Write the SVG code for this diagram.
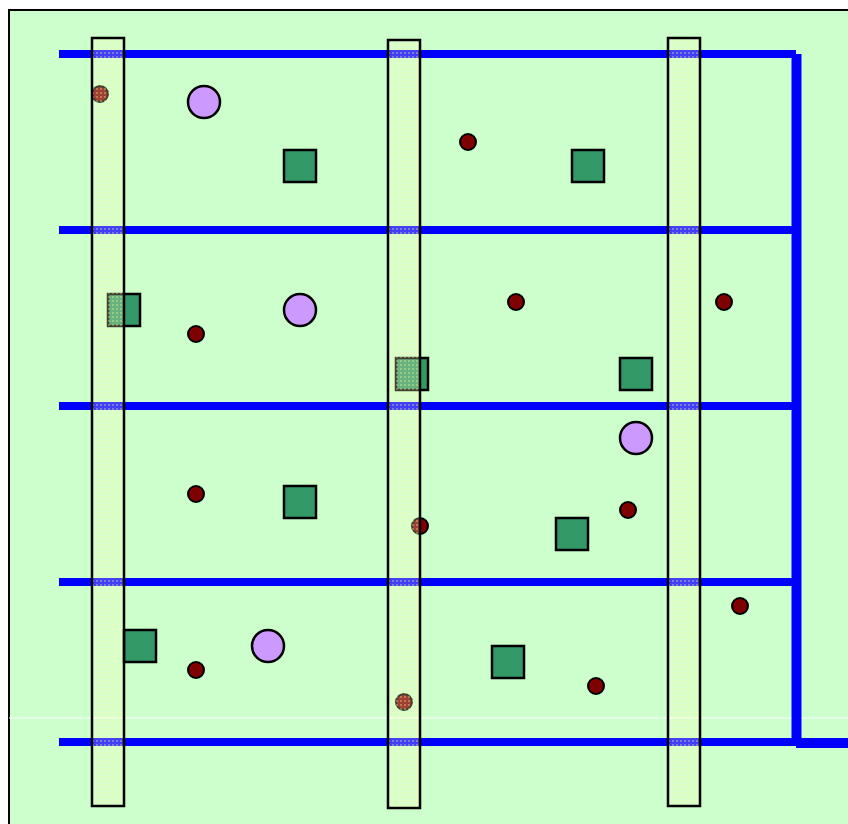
<svg xmlns="http://www.w3.org/2000/svg" width="848" height="824" viewBox="0 0 848 824">
<defs>
<pattern id="hatch" width="4" height="4" patternUnits="userSpaceOnUse">
<rect width="4" height="4" fill="#ffffcc" fill-opacity="0.25"/>
<rect width="2" height="2" fill="#ffff99" fill-opacity="0.3"/>
</pattern>
</defs>
<style>
.bg{fill:#ccffcc;stroke:#000;stroke-width:2}
.wire{stroke:#0000ff;stroke-width:8;fill:none}
.wire2{stroke:#0000ff;stroke-width:10;fill:none}
.col{fill:url(#hatch);stroke:#000;stroke-width:2.5}
.sq{fill:#339966;stroke:#000;stroke-width:2.5}
.big{fill:#cc99ff;stroke:#000;stroke-width:2.5}
.dot{fill:#800000;stroke:#000;stroke-width:2}
</style>
<rect x="0" y="0" width="848" height="824" fill="#ffffff"/>
<rect class="bg" x="9" y="10" width="860" height="840"/>
<line x1="9" y1="718" x2="848" y2="718" stroke="#ffffff" stroke-width="1"/>
<g id="connectors">
<line class="wire" x1="59" y1="54" x2="796" y2="54"/>
<line class="wire" x1="59" y1="230" x2="796" y2="230"/>
<line class="wire" x1="59" y1="406" x2="796" y2="406"/>
<line class="wire" x1="59" y1="582" x2="796" y2="582"/>
<line class="wire" x1="59" y1="742" x2="796" y2="742"/>
<line class="wire2" x1="796.5" y1="54" x2="796.5" y2="746"/>
<line class="wire2" x1="796" y1="743" x2="848" y2="743"/>
</g>
<g id="sq1"><rect class="sq" x="284" y="150" width="32" height="32"/></g>
<g id="sq2"><rect class="sq" x="572" y="150" width="32" height="32"/></g>
<g id="sq3"><rect class="sq" x="108" y="294" width="32" height="32"/></g>
<g id="sq4"><rect class="sq" x="396" y="358" width="32" height="32"/></g>
<g id="sq5"><rect class="sq" x="620" y="358" width="32" height="32"/></g>
<g id="sq6"><rect class="sq" x="284" y="486" width="32" height="32"/></g>
<g id="sq7"><rect class="sq" x="556" y="518" width="32" height="32"/></g>
<g id="sq8"><rect class="sq" x="124" y="630" width="32" height="32"/></g>
<g id="sq9"><rect class="sq" x="492" y="646" width="32" height="32"/></g>
<g id="big1"><circle class="big" cx="204" cy="102" r="16"/></g>
<g id="big2"><circle class="big" cx="300" cy="310" r="16"/></g>
<g id="big3"><circle class="big" cx="636" cy="438" r="16"/></g>
<g id="big4"><circle class="big" cx="268" cy="646" r="16"/></g>
<g id="dot1"><circle class="dot" cx="100" cy="94" r="8"/></g>
<g id="dot2"><circle class="dot" cx="468" cy="142" r="8"/></g>
<g id="dot3"><circle class="dot" cx="196" cy="334" r="8"/></g>
<g id="dot4"><circle class="dot" cx="516" cy="302" r="8"/></g>
<g id="dot5"><circle class="dot" cx="724" cy="302" r="8"/></g>
<g id="dot6"><circle class="dot" cx="196" cy="494" r="8"/></g>
<g id="dot7"><circle class="dot" cx="420" cy="526" r="8"/></g>
<g id="dot8"><circle class="dot" cx="628" cy="510" r="8"/></g>
<g id="dot9"><circle class="dot" cx="740" cy="606" r="8"/></g>
<g id="dot10"><circle class="dot" cx="196" cy="670" r="8"/></g>
<g id="dot11"><circle class="dot" cx="596" cy="686" r="8"/></g>
<g id="dot12"><circle class="dot" cx="404" cy="702" r="8"/></g>
<g id="col1"><rect class="col" x="92" y="38" width="32" height="768"/></g>
<g id="col2"><rect class="col" x="388" y="40" width="32" height="768"/></g>
<g id="col3"><rect class="col" x="668" y="38" width="32" height="768"/></g>
</svg>
